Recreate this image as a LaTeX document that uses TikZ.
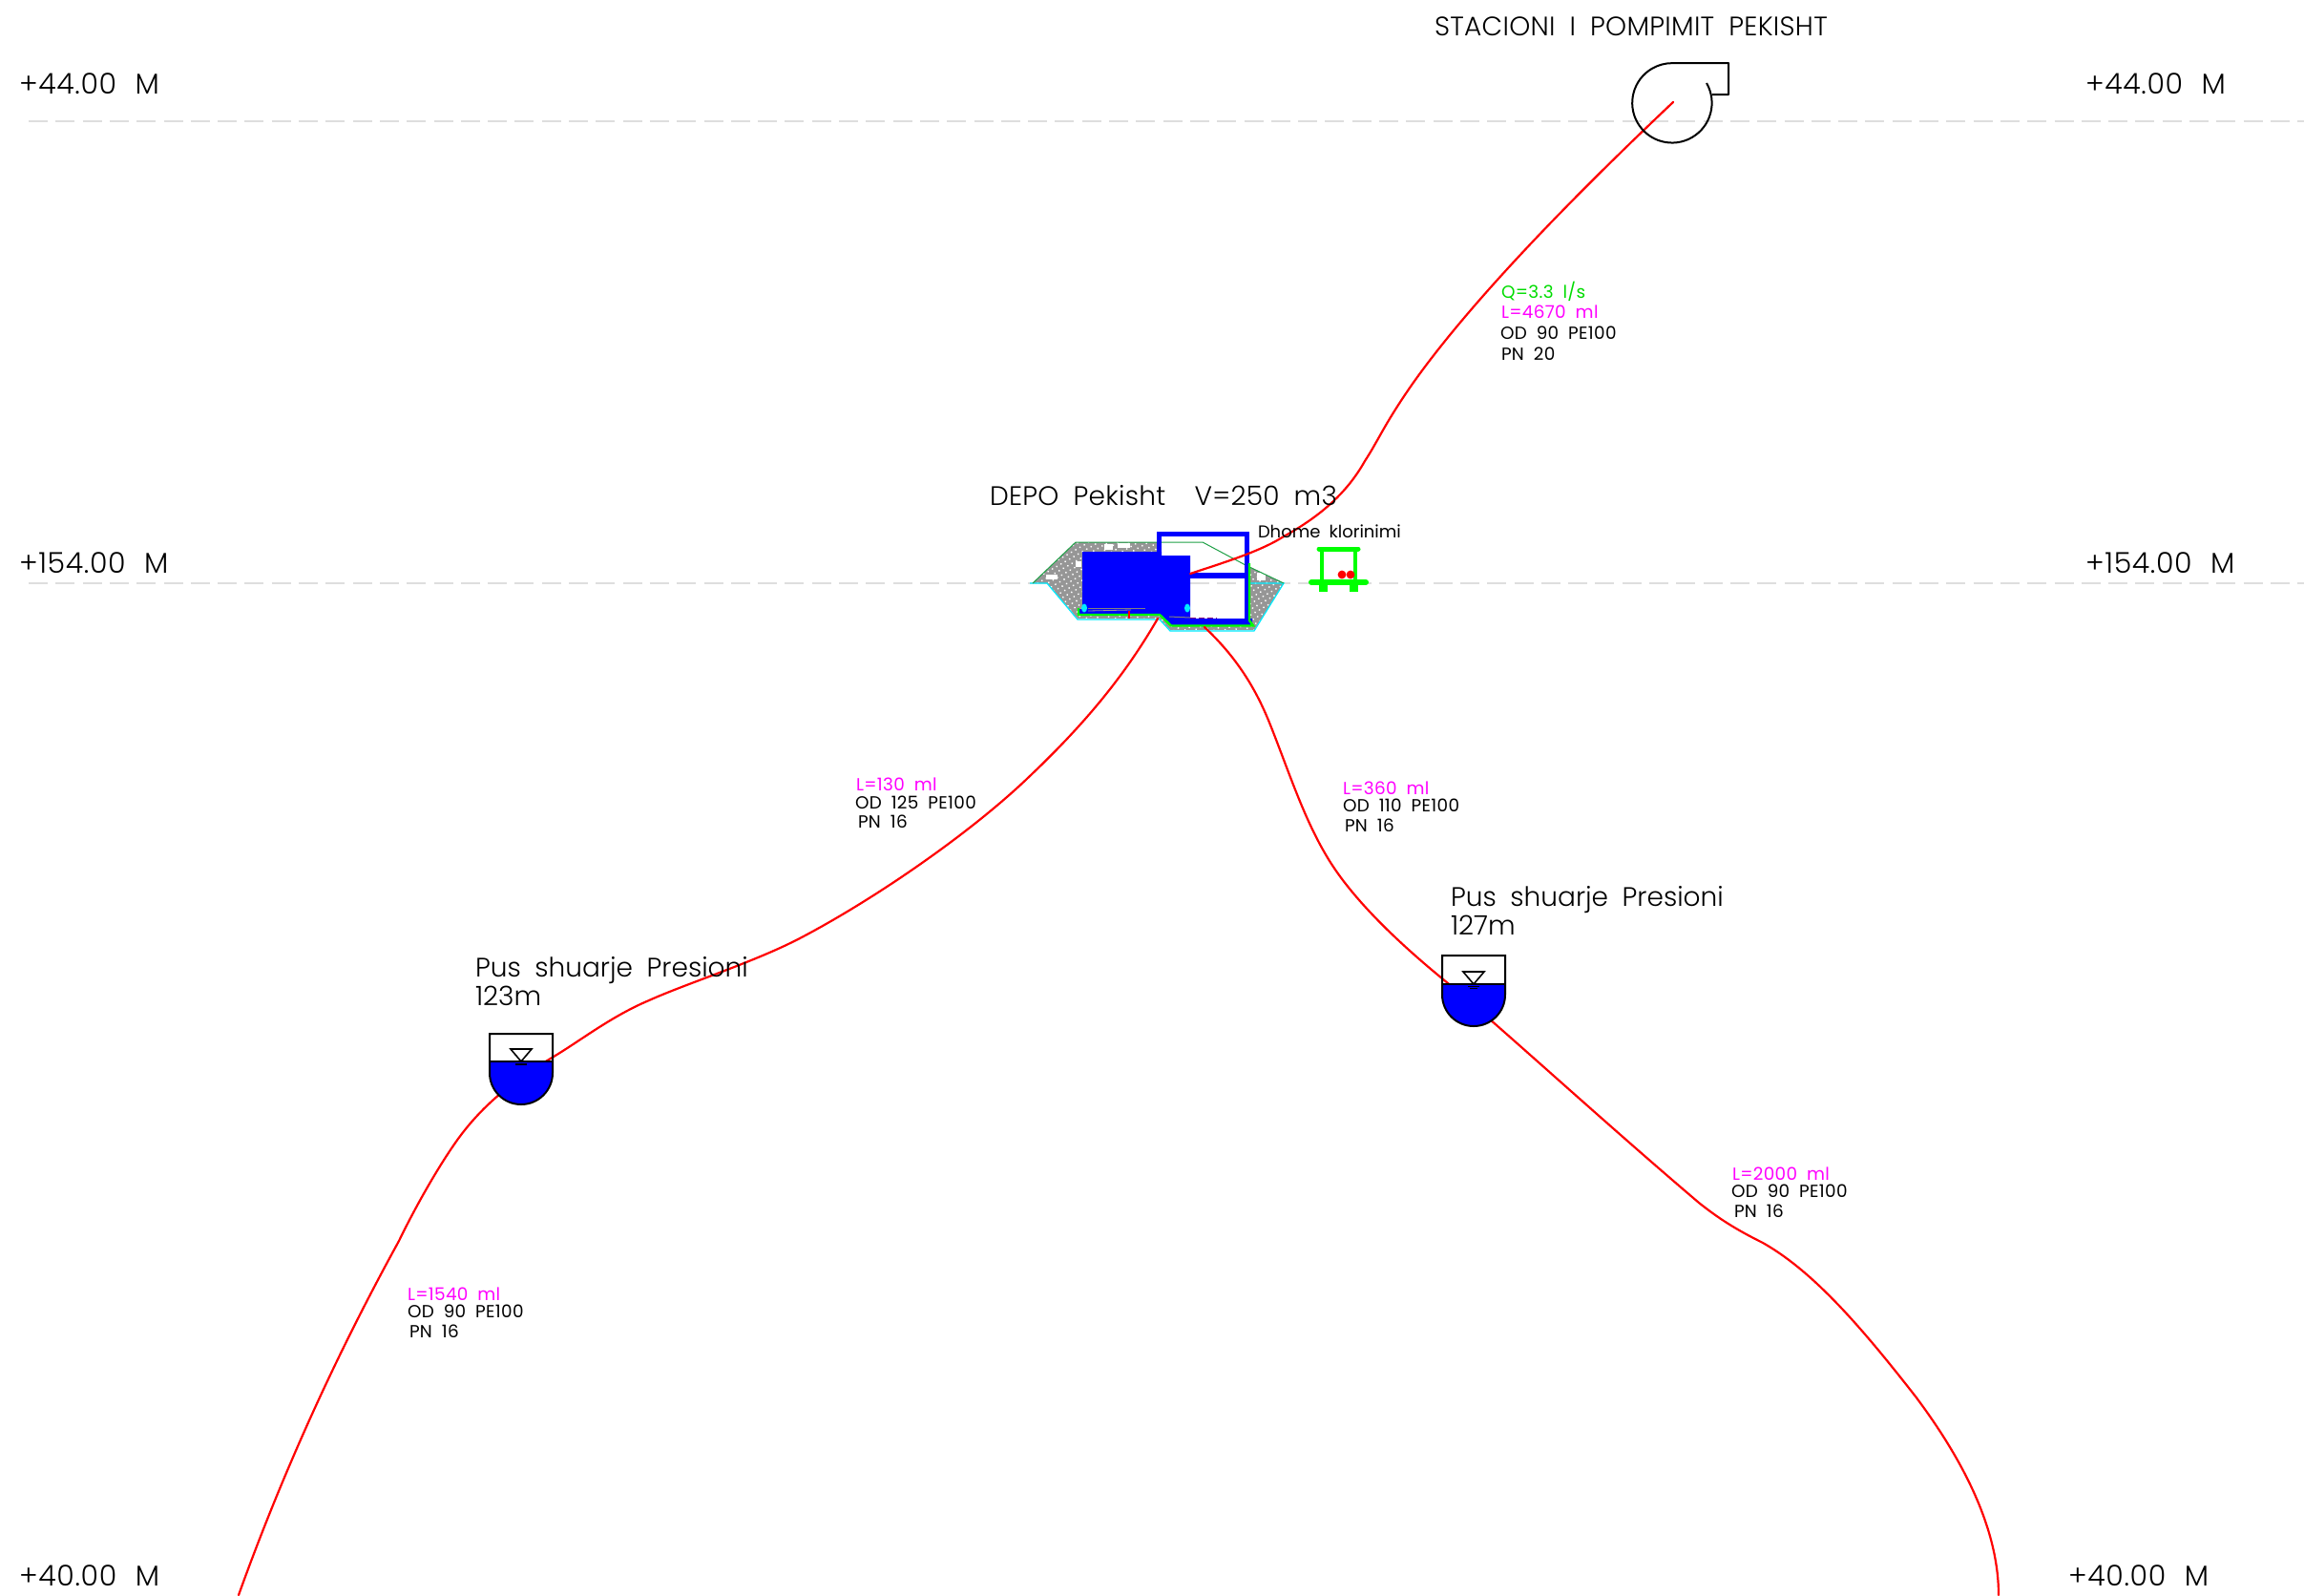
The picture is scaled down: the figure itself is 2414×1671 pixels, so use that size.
\documentclass[tikz,border=0pt]{standalone}
\usepackage{fontspec}
\setmainfont{Poppins}[UprightFont=* Light,WordSpace=1.9]
\newfontfamily\smallf{Poppins}[UprightFont=*,WordSpace=1.9,LetterSpace=1.8]
\newfontfamily\dhomef{Poppins}[UprightFont=*,WordSpace=1.9]
\newfontfamily\levf{Poppins}[UprightFont=* Light,WordSpace=2.2,LetterSpace=2.2]
\newfontfamily\capf{Poppins}[UprightFont=* Light,WordSpace=1.9,LetterSpace=1]
\usetikzlibrary{patterns.meta}
\definecolor{cadblue}{RGB}{0,0,255}
\definecolor{cadgreen}{RGB}{0,255,0}
\definecolor{darkgreen}{RGB}{30,160,70}
\definecolor{labgreen}{RGB}{0,220,0}
\definecolor{cadmag}{RGB}{255,0,255}
\definecolor{cadcyan}{RGB}{0,235,255}
\definecolor{levelgrey}{RGB}{222,222,222}
\definecolor{fillgrey}{RGB}{150,150,150}
\tikzset{
  x=0.5pt,y=-0.5pt,
  biglabel/.style={anchor=base west,inner sep=0pt,outer sep=0pt,font=\fontsize{14}{14}\selectfont},
  caplabel/.style={anchor=base west,inner sep=0pt,outer sep=0pt,font=\capf\fontsize{14}{14}\selectfont},
  levlabel/.style={anchor=base west,inner sep=0pt,outer sep=0pt,font=\levf\fontsize{15}{15}\selectfont},
  tinylabel/.style={anchor=base west,inner sep=0pt,outer sep=0pt,font=\smallf\fontsize{9.2}{9.2}\selectfont},
  dhomelabel/.style={anchor=base west,inner sep=0pt,outer sep=0pt,font=\dhomef\fontsize{9}{9}\selectfont},
  levelline/.style={levelgrey,line width=1pt,dash pattern=on 10pt off 4.15pt},
  pipe/.style={red,line width=1.1pt,line cap=round},
  outl/.style={black,line width=1pt},
  gravel/.style={fill=fillgrey,postaction={pattern={Dots[distance=2.6pt,radius=0.5pt,angle=30]},pattern color=white}},
}
\begin{document}
\begin{tikzpicture}
\useasboundingbox (0,0) rectangle (2414,1671);
% level lines
\coordinate (l1a) at (30,127); \coordinate (l1b) at (2414,127);
\coordinate (l2a) at (30,611); \coordinate (l2b) at (2414,611);
\draw[levelline] (l1a) -- (l1b);
\draw[levelline] (l2a) -- (l2b);
% level labels
\node[levlabel] (t1) at (20,98) {+44.00 M};
\node[levlabel] (t2) at (2185,98) {+44.00 M};
\node[levlabel] (t3) at (20,600) {+154.00 M};
\node[levlabel] (t4) at (2185,600) {+154.00 M};
\node[levlabel] (t5) at (20,1661) {+40.00 M};
\node[levlabel] (t6) at (2167,1661) {+40.00 M};
% depot
\path[gravel] (1082,611) -- (1127,568) -- (1212,568) -- (1217,582) -- (1217,648) -- (1129,648) -- (1097,611) -- cycle;
\path[gravel] (1306,592) -- (1345,611) -- (1314,660) -- (1226,660) -- (1213,646) -- (1247,648) -- (1306,650) -- cycle;
\fill[white] (1157,570) rectangle (1166,576);
\fill[white] (1171,569) rectangle (1184,574);
\fill[white] (1096,602) rectangle (1108,607);
\fill[white] (1127,588) rectangle (1133,594);
\fill[white] (1317,600) rectangle (1326,608);
\draw[cadcyan,line width=.6pt] (1079,611) -- (1097,611) -- (1129,649) -- (1215,649) -- (1226,661) -- (1314,661) -- (1345,611) -- (1308,611);
\draw[darkgreen,line width=.5pt] (1082,611) -- (1127,568) -- (1212,568);
\draw[darkgreen,line width=.5pt] (1217,568) -- (1260,568) -- (1305,592);
\draw[darkgreen,line width=.5pt] (1309,594) -- (1345,611);
\fill[cadblue] (1134,578) -- (1217,578) -- (1217,582) -- (1247,582) -- (1247,648) -- (1312,648) -- (1312,655) -- (1227,655) -- (1215,643) -- (1130,643) -- (1130,638) -- (1134,638) -- cycle;
\fill[cadblue] (1212,557) rectangle (1309,562);
\fill[cadblue] (1212,557) rectangle (1217,582);
\fill[cadblue] (1304,557) rectangle (1309,650);
\fill[cadblue] (1247,600) rectangle (1304,606);
\draw[cadgreen,line width=1.2pt] (1130,637) -- (1130,644) -- (1215,644) -- (1227,655.5) -- (1313,655.5) -- (1309,650) -- (1309,590);
\fill[cadcyan] (1136,637) ellipse [x radius=3,y radius=4.5];
\fill[cadcyan] (1244,637) ellipse [x radius=3,y radius=4.5];
\draw[red,line width=1.2pt] (1183,640) -- (1183,648);
\draw[violet,line width=.5pt,dash pattern=on 3pt off 1.5pt] (1247,647) -- (1275,647);
\draw[gray,line width=.5pt] (1225,646) -- (1247,647);
\draw[gray,line width=.5pt] (1140,637) -- (1200,637);
\draw[gray!80,line width=.4pt] (1140,640) -- (1185,639);
% chlorination room
\draw[cadgreen,line width=2.5pt,line cap=round] (1382,575) -- (1423,575);
\draw[cadgreen,line width=2.4pt] (1385,575) -- (1385,610);
\draw[cadgreen,line width=2.4pt] (1420,575) -- (1420,610);
\draw[cadgreen,line width=3pt,line cap=round] (1374,610) -- (1431,610);
\draw[cadgreen,line width=4.5pt] (1386,610) -- (1386,620);
\draw[cadgreen,line width=4.5pt] (1418,610) -- (1418,620);
\fill[red] (1406,602) circle [radius=2.2pt];
\fill[red] (1415,602) circle [radius=2.2pt];
% pipes
\coordinate (pumpc) at (1753,107);
\coordinate (depoin) at (1247,601);
\coordinate (depoa) at (1213,648);
\coordinate (depob) at (1262,657);
\coordinate (endl) at (250,1671);
\coordinate (endr) at (2094,1671);
\draw[pipe] (pumpc) .. controls (1660,195) and (1545,310) .. (1480,402)
  .. controls (1450,445) and (1445,460) .. (1430,483)
  .. controls (1412,515) and (1385,540) .. (1345,562)
  .. controls (1320,578) and (1280,590) .. (depoin);
\draw[pipe] (depoa) .. controls (1180,705) and (1140,755) .. (1079,813)
  .. controls (1020,870) and (920,940) .. (838,983)
  .. controls (790,1008) and (720,1030) .. (680,1048)
  .. controls (640,1065) and (610,1089) .. (580,1107)
  .. controls (545,1128) and (510,1152) .. (480,1193)
  .. controls (455,1228) and (430,1275) .. (418,1300)
  .. controls (352,1420) and (296,1543) .. (endl);
\draw[pipe] (depob) .. controls (1295,688) and (1315,720) .. (1330,757)
  .. controls (1350,807) and (1365,855) .. (1390,897)
  .. controls (1420,948) and (1480,1000) .. (1517,1030)
  .. controls (1580,1083) and (1680,1175) .. (1780,1260)
  .. controls (1805,1280) and (1825,1291) .. (1847,1302)
  .. controls (1900,1332) and (1950,1390) .. (2007,1463)
  .. controls (2055,1527) and (2094,1600) .. (endr);
% pump
\draw[outl,line join=round] (1788,87) arc[start angle=30,delta angle=-300,radius=20.85pt] -- (1811,66) -- (1811,99) -- (1794,99);
% tanks
\fill[cadblue] (513,1112) -- (513,1124) arc[start angle=180,delta angle=180,radius=16.5pt] -- (579,1112) -- cycle;
\draw[outl] (513,1083) -- (579,1083) -- (579,1124) arc[start angle=0,delta angle=-180,radius=16.5pt] -- cycle;
\draw[outl] (513,1112) -- (579,1112);
\draw[outl,line width=.8pt] (535,1099) -- (557,1099) -- (546,1112) -- cycle;
\draw[outl] (540,1115) -- (552,1115);
\fill[cadblue] (1511,1031) -- (1511,1042) arc[start angle=180,delta angle=180,radius=16.5pt] -- (1577,1031) -- cycle;
\draw[outl] (1511,1001) -- (1577,1001) -- (1577,1042) arc[start angle=0,delta angle=-180,radius=16.5pt] -- cycle;
\draw[outl] (1511,1031) -- (1577,1031);
\draw[outl,line width=.8pt] (1533,1018) -- (1555,1018) -- (1544,1031) -- cycle;
\draw[outl,line width=.5pt] (1538,1033) -- (1550,1033);
\draw[outl,line width=.5pt] (1540,1035) -- (1548,1035);
% big labels
\node[caplabel] (st) at (1503,37) {STACIONI I POMPIMIT PEKISHT};
\node[caplabel] (dp) at (1037,529) {DEPO Pekisht\ \ V=250 m3};
\node[biglabel] (p1) at (498,1023) {Pus shuarje Presioni};
\node[biglabel] (p1b) at (498,1053) {123m};
\node[biglabel] (p2) at (1520,949) {Pus shuarje Presioni};
\node[biglabel] (p2b) at (1520,979) {127m};
% small labels
\node[dhomelabel] (dk) at (1318,563) {Dhome klorinimi};
\node[tinylabel,text=labgreen] (q) at (1573,312) {Q=3.3 l/s};
\node[tinylabel,text=cadmag] (a1) at (1573,333) {L=4670 ml};
\node[tinylabel] (a2) at (1572,355) {OD 90 PE100};
\node[tinylabel] (a3) at (1573,377) {PN 20};
\node[tinylabel,text=cadmag] (b1) at (897,828) {L=130 ml};
\node[tinylabel] (b2) at (896,847) {OD 125 PE100};
\node[tinylabel] (b3) at (899,867) {PN 16};
\node[tinylabel,text=cadmag] (c1) at (1407,832) {L=360 ml};
\node[tinylabel] (c2) at (1407,850) {OD 110 PE100};
\node[tinylabel] (c3) at (1409,871) {PN 16};
\node[tinylabel,text=cadmag] (d1) at (427,1362) {L=1540 ml};
\node[tinylabel] (d2) at (427,1380) {OD 90 PE100};
\node[tinylabel] (d3) at (429,1401) {PN 16};
\node[tinylabel,text=cadmag] (e1) at (1815,1236) {L=2000 ml};
\node[tinylabel] (e2) at (1814,1254) {OD 90 PE100};
\node[tinylabel] (e3) at (1817,1275) {PN 16};
\end{tikzpicture}
\end{document}
